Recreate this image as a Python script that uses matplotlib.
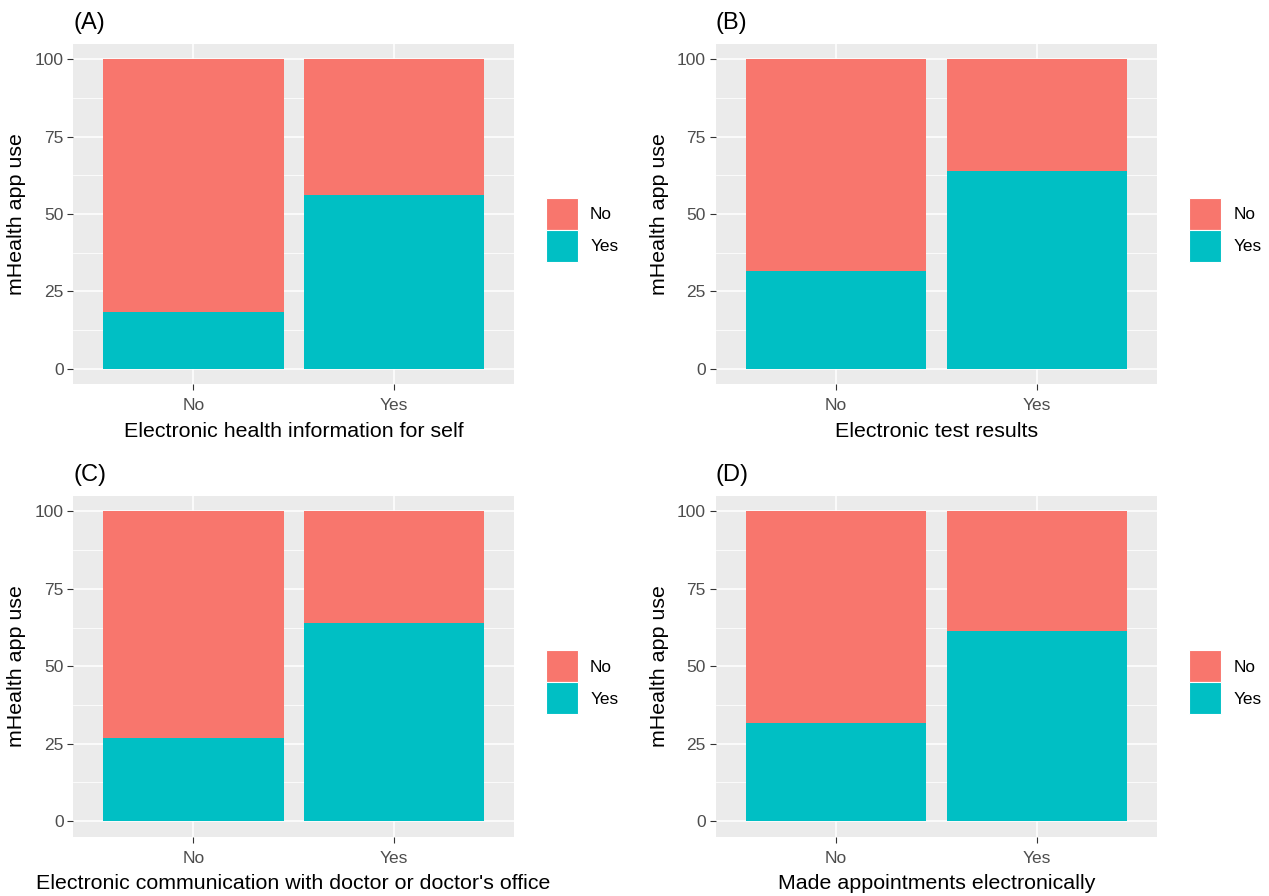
import matplotlib.pyplot as plt

plt.rcParams['font.family'] = ['Liberation Sans', 'DejaVu Sans']

panels = ["(A)", "(B)", "(C)", "(D)"]
xlabels = [
    "Electronic health information for self",
    "Electronic test results",
    "Electronic communication with doctor or doctor's office",
    "Made appointments electronically",
]
categories = ["No", "Yes"]
# percent of mHealth app users (Yes) in each group
yes_pct = [
    [18.4, 56.3],
    [31.7, 64.1],
    [26.9, 64.0],
    [31.8, 61.4],
]
no_pct = [[100 - v for v in row] for row in yes_pct]

col_no = "#F8766D"
col_yes = "#00BFC4"

W, H = 1269, 896
fig = plt.figure(figsize=(W / 100, H / 100), dpi=100)

# panel boxes in pixels: left, top, width, height
boxes = [
    (73.3, 44, 440.7, 340.3),
    (715.7, 44, 441.6, 340.3),
    (73.3, 496, 440.7, 340.7),
    (715.7, 496, 441.6, 340.7),
]

for i in range(4):
    l, t, w, h = boxes[i]
    ax = fig.add_axes([l / W, 1 - (t + h) / H, w / W, h / H])
    ax.set_facecolor("#EBEBEB")
    x = [1, 2]
    ax.bar(x, yes_pct[i], width=0.9, color=col_yes, label="Yes", zorder=3)
    ax.bar(x, no_pct[i], width=0.9, bottom=yes_pct[i], color=col_no, label="No", zorder=3)
    ax.set_xlim(0.4, 2.6)
    ax.set_ylim(-5, 105)
    ax.set_xticks(x)
    ax.set_xticklabels(categories)
    ax.set_yticks([0, 25, 50, 75, 100])
    ax.set_yticks([12.5, 37.5, 62.5, 87.5], minor=True)
    ax.grid(True, which="major", color="white", linewidth=1.1, zorder=1)
    ax.grid(True, which="minor", axis="y", color="white", linewidth=0.55, zorder=1)
    ax.tick_params(which="major", length=4, width=0.8, color="#333333",
                   labelcolor="#4D4D4D", labelsize=12.5)
    ax.tick_params(axis="x", pad=6)
    ax.tick_params(axis="y", pad=3)
    ax.tick_params(which="minor", length=0)
    for s in ax.spines.values():
        s.set_visible(False)
    ax.set_ylabel("mHealth app use", fontsize=15.4, color="black", labelpad=6)
    ax.set_xlabel(xlabels[i], fontsize=15.4, color="black", labelpad=6)
    ax.text(0.0, 1.03, panels[i], transform=ax.transAxes, fontsize=17,
            ha="left", va="bottom")
    handles, labels = ax.get_legend_handles_labels()
    leg = ax.legend(handles[::-1], labels[::-1], loc="center left",
                    bbox_to_anchor=(1.0726, 0.453), frameon=False, fontsize=12.4,
                    handlelength=1.86, handleheight=2.48, handletextpad=0.7,
                    labelspacing=0.0, borderpad=0, borderaxespad=0)
    for p in leg.get_patches():
        p.set_edgecolor("white")
        p.set_linewidth(0.8)

fig.savefig("out.png", dpi=100)
